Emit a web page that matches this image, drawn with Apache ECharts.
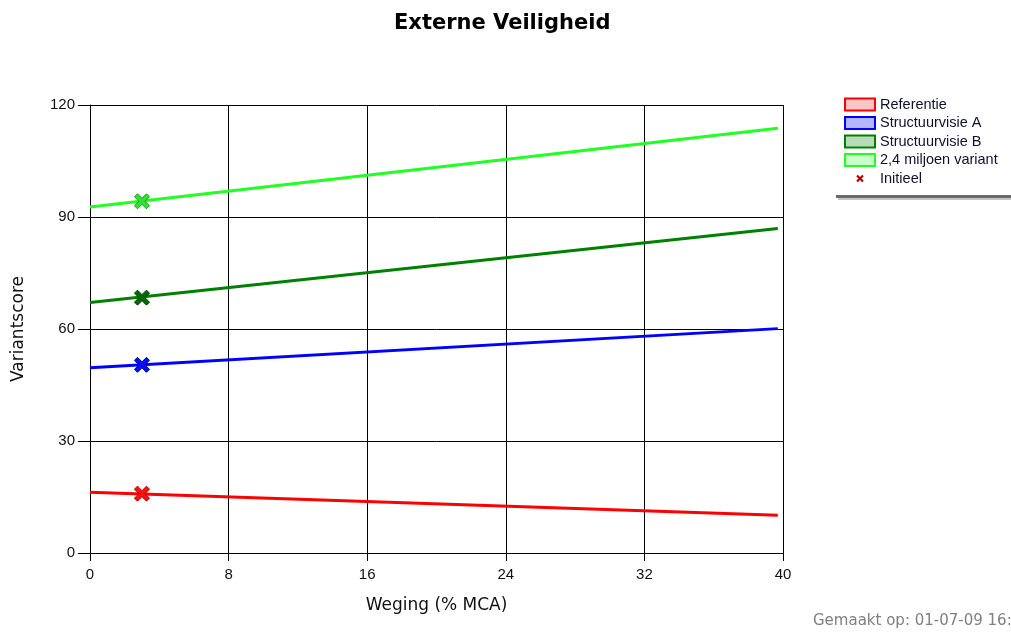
<!DOCTYPE html>
<html>
<head>
<meta charset="utf-8">
<script src="https://cdn.jsdelivr.net/npm/echarts@6/dist/echarts.min.js"></script>
<style>
html,body{margin:0;padding:0;background:#fff;}
#chart{width:1011px;height:632px;}
</style>
</head>
<body>
<div id="chart"></div>
<script>
// ---- data ----
var seriesNames = ['Referentie', 'Structuurvisie A', 'Structuurvisie B', '2,4 miljoen variant'];
var lineX = [0, 39.7];
var referentie = [16.3, 10.1];
var structuurvisieA = [49.6, 60.1];
var structuurvisieB = [67.1, 86.9];
var miljoenVariant = [92.7, 113.8];
var initieelX = 3;
var initieelY = [15.9, 50.4, 68.4, 94.2];
var xTicks = {min: 0, max: 40, interval: 8};
var yTicks = {min: 0, max: 120, interval: 30};

var lineColors = ['#ff0000', '#0000ff', '#008000', '#22ff22'];
var legendFills = ['#ffc4c4', '#b4b4ff', '#b8dcb8', '#c8ffc8'];
var markerFills = ['#ff1010', '#0010ff', '#006a00', '#33e033'];
var markerBorders = ['#b00000', '#000090', '#004000', '#1a9a1a'];

var lineValues = [referentie, structuurvisieA, structuurvisieB, miljoenVariant];
var crossPath = 'path://M0,2L2,0L5,3L8,0L10,2L7,5L10,8L8,10L5,7L2,10L0,8L3,5Z';
var legendCross = 'path://M-3,-3L-3,-3.01M13,13L13,13.01M0,2L2,0L5,3L8,0L10,2L7,5L10,8L8,10L5,7L2,10L0,8L3,5Z';

var series = lineValues.map(function (vals, i) {
  return {
    name: seriesNames[i],
    type: 'line',
    data: lineX.map(function (x, j) { return [x, vals[j]]; }),
    showSymbol: false,
    symbol: 'none',
    lineStyle: {color: lineColors[i], width: 3},
    itemStyle: {color: lineColors[i]},
    animation: false,
    z: 3
  };
});
series.push({
  name: 'Initieel',
  type: 'scatter',
  symbol: crossPath,
  symbolSize: 15,
  data: initieelY.map(function (y, i) {
    return {value: [initieelX, y], itemStyle: {color: markerFills[i], borderColor: markerBorders[i], borderWidth: 1, opacity: 1}};
  }),
  itemStyle: {color: '#c00000', opacity: 1},
  animation: false,
  z: 5
});

var legendData = seriesNames.map(function (n, i) {
  return {name: n, icon: 'rect', itemStyle: {color: legendFills[i], borderColor: lineColors[i], borderWidth: 2}};
});
legendData.push({name: 'Initieel', icon: legendCross, itemStyle: {color: '#b00000', borderWidth: 0, opacity: 1}});

var chart = echarts.init(document.getElementById('chart'), null, {renderer: 'canvas'});
chart.setOption({
  animation: false,
  backgroundColor: '#fff',
  title: {
    text: 'Externe Veiligheid',
    left: 389,
    top: 8,
    textStyle: {fontFamily: 'DejaVu Sans', fontWeight: 'bold', fontSize: 21, color: '#000'}
  },
  legend: {
    data: legendData,
    orient: 'vertical',
    left: 844,
    top: 97,
    itemWidth: 30,
    itemHeight: 12,
    itemGap: 3.5,
    padding: 0,
    selectedMode: false,
    textStyle: {fontFamily: 'Liberation Sans', fontSize: 14.5, color: '#101030'}
  },
  grid: {left: 90, right: 228, top: 105, bottom: 79, containLabel: false},
  xAxis: {
    type: 'value',
    min: xTicks.min, max: xTicks.max, interval: xTicks.interval,
    name: 'Weging (% MCA)',
    nameLocation: 'middle',
    nameGap: 44,
    nameTextStyle: {fontFamily: 'DejaVu Sans', fontSize: 17, color: '#111'},
    axisLine: {show: true, lineStyle: {color: '#000', width: 1}},
    axisTick: {show: true, length: 8, lineStyle: {color: '#000'}},
    axisLabel: {margin: 14, fontFamily: 'Liberation Sans', fontSize: 15, color: '#111'},
    splitLine: {show: true, lineStyle: {color: '#000', width: 1}}
  },
  yAxis: {
    type: 'value',
    min: yTicks.min, max: yTicks.max, interval: yTicks.interval,
    name: 'Variantscore',
    nameLocation: 'middle',
    nameGap: 63,
    nameTextStyle: {fontFamily: 'DejaVu Sans', fontSize: 17, color: '#111'},
    axisLine: {show: true, lineStyle: {color: '#000', width: 1}},
    axisTick: {show: true, length: 12, lineStyle: {color: '#000'}},
    axisLabel: {margin: 15, fontFamily: 'Liberation Sans', fontSize: 15, color: '#111'},
    splitLine: {show: true, lineStyle: {color: '#000', width: 1}}
  },
  graphic: [
    {type: 'rect', left: 836, top: 195, shape: {width: 175, height: 3}, style: {fill: '#6a6a6a'}, silent: true},
    {type: 'rect', left: 838, top: 198, shape: {width: 173, height: 2}, style: {fill: '#c4c4c4'}, silent: true},
    {type: 'text', left: 813, top: 614, style: {text: 'Gemaakt op: 01-07-09 16:', font: '15px "DejaVu Sans"', fill: '#808080'}, silent: true}
  ],
  series: series
});
</script>
</body>
</html>
